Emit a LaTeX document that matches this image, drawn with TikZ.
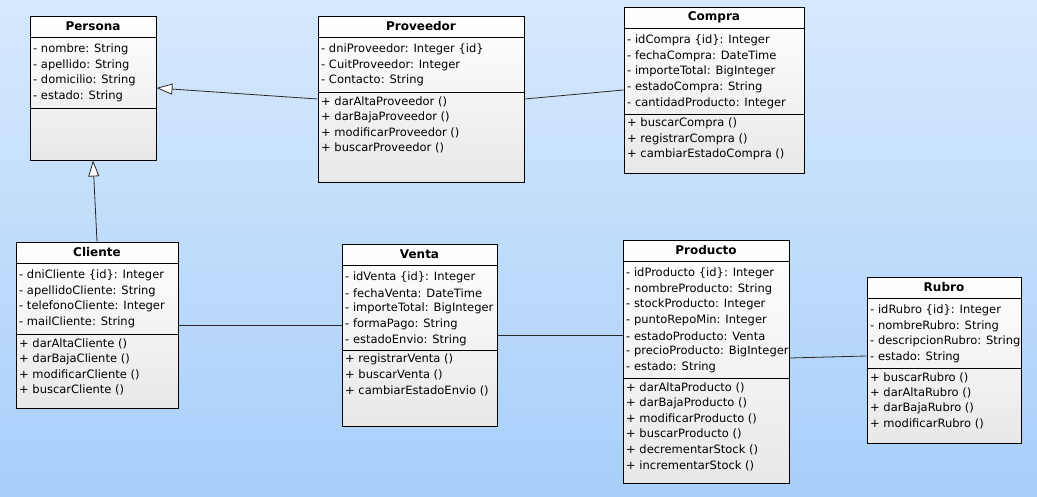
\documentclass[tikz,border=0pt]{standalone}
\usepackage{fontspec}
\setmainfont{DejaVu Sans}
\usetikzlibrary{arrows.meta,fit,calc}
\definecolor{bgtop}{RGB}{214,233,253}
\definecolor{bgbot}{RGB}{168,207,249}
\definecolor{boxbot}{RGB}{232,232,232}
\definecolor{linec}{RGB}{40,40,40}
\tikzset{
  classbox/.style={draw=black, line width=0.9pt, inner sep=0pt, top color=white, bottom color=boxbot},
  item/.style={inner sep=0pt, anchor=west, font=\fontsize{11.5}{14}\selectfont},
  ctitle/.style={inner sep=0pt, font=\fontsize{12}{14}\selectfont\bfseries},
  sepline/.style={draw=black, line width=0.9pt},
  assoc/.style={draw=linec, line width=0.8pt},
  gen/.style={draw=linec, line width=0.8pt, -{Triangle[length=16pt,width=11pt,fill=white]}},
}
% #1 name #2 x1 #3 y1 #4 x2 #5 y2 #6 sep1 #7 sep2 #8 title #9 attrs
\newcommand\umlclass[9]{%
  \node[classbox, fit={(#2,#3) (#4,#5)}] (#1) {};
  \draw[sepline] (#2,#6) -- (#4,#6);
  \draw[sepline] (#2,#7) -- (#4,#7);
  \node[ctitle] (#1-title) at ({(#2+#4)/2},{(#3+#6)/2}) {#8};
  \foreach \t [count=\i] in {#9} {
    \node[item] (#1-a\i) at ({#2+3},{#6+12.5+(\i-1)*15.6}) {\t};
  }%
}
% #1 name #2 x1 #3 sep2 #4 ops
\newcommand\umlops[4]{%
  \foreach \t [count=\i] in {#4} {
    \node[item] (#1-o\i) at ({#2+3},{#3+9.5+(\i-1)*15.6}) {\t};
  }%
}
\begin{document}
\begin{tikzpicture}[x=1pt,y=-1pt]
\shade[top color=bgtop, bottom color=bgbot] (0,0) rectangle (1037,496);
\useasboundingbox (0,0) rectangle (1037,496);

\umlclass{persona}{30}{16}{156}{160}{37}{108}{Persona}{- nombre: String,- apellido: String,- domicilio: String,- estado: String}

\umlclass{prov}{318}{16}{524}{182}{37}{92}{Proveedor}{- dniProveedor: Integer \{id\},- CuitProveedor: Integer,- Contacto: String}
\umlops{prov}{318}{92}{+ darAltaProveedor (),+ darBajaProveedor (),+ modificarProveedor (),+ buscarProveedor ()}

\umlclass{compra}{624}{7}{804}{173}{28}{114}{Compra}{- idCompra \{id\}: Integer,- fechaCompra: DateTime,- importeTotal: BigInteger,- estadoCompra: String,- cantidadProducto: Integer}
\umlops{compra}{624}{114}{+ buscarCompra (),+ registrarCompra (),+ cambiarEstadoCompra ()}

\umlclass{cliente}{16}{242}{178}{408}{263}{334}{Cliente}{- dniCliente \{id\}: Integer,- apellidoCliente: String,- telefonoCliente: Integer,- mailCliente: String}
\umlops{cliente}{16}{334}{+ darAltaCliente (),+ darBajaCliente (),+ modificarCliente (),+ buscarCliente ()}

\umlclass{venta}{342}{244}{497}{426}{265}{350}{Venta}{- idVenta \{id\}: Integer,- fechaVenta: DateTime,- importeTotal: BigInteger,- formaPago: String,- estadoEnvio: String}
\umlops{venta}{342}{350}{+ registrarVenta (),+ buscarVenta (),+ cambiarEstadoEnvio ()}

\umlclass{prod}{623}{240}{789}{483}{261}{378}{Producto}{- idProducto \{id\}: Integer,- nombreProducto: String,- stockProducto: Integer,- puntoRepoMin: Integer,- estadoProducto: Venta,- precioProducto: BigInteger,- estado: String}
\umlops{prod}{623}{378}{+ darAltaProducto (),+ darBajaProducto (),+ modificarProducto (),+ buscarProducto (),+ decrementarStock (),+ incrementarStock ()}

\umlclass{rubro}{867}{277}{1021}{443}{298}{368}{Rubro}{- idRubro \{id\}: Integer,- nombreRubro: String,- descripcionRubro: String,- estado: String}
\umlops{rubro}{867}{368}{+ buscarRubro (),+ darAltaRubro (),+ darBajaRubro (),+ modificarRubro ()}

% connectors
\draw[gen] (prov.west) -- (persona.east);
\draw[gen] (cliente.north) -- (persona.south);
\draw[assoc] (prov.east) -- (compra.west);
\draw[assoc] (cliente.east) -- (cliente.east -| venta.west);
\draw[assoc] (venta.east) -- (venta.east -| prod.west);
\draw[assoc] ([yshift=3.5pt]prod.east) -- ([yshift=4pt]rubro.west);
\end{tikzpicture}
\end{document}
